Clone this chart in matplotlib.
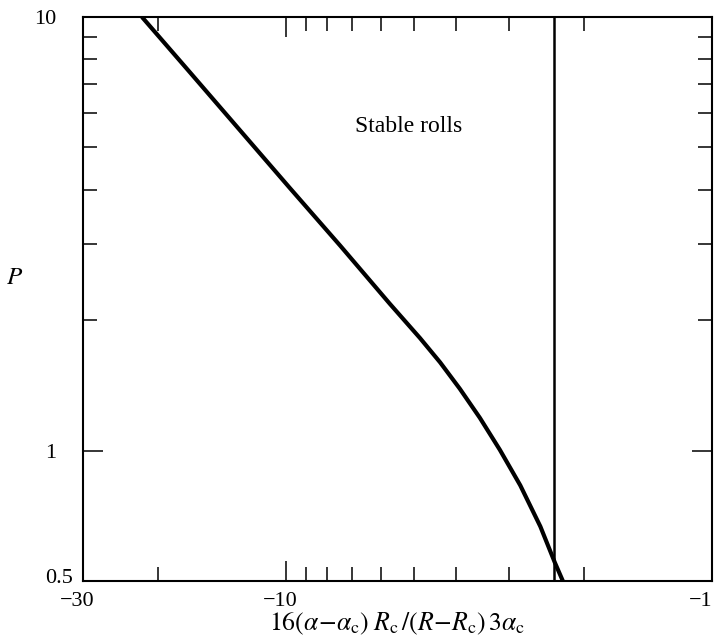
import numpy as np
import matplotlib
matplotlib.use("Agg")
import matplotlib.pyplot as plt
from matplotlib.transforms import ScaledTranslation

# ---- data ----
curve_x = [-21.81, -16.82, -12.84, -9.80, -7.47, -5.71, -4.85, -4.35, -3.91,
           -3.51, -3.15, -2.82, -2.53, -2.34, -2.24]
curve_P = [10.0, 7.45, 5.48, 4.03, 2.97, 2.18, 1.817, 1.597, 1.388,
           1.190, 1.004, 0.831, 0.668, 0.552, 0.5]
vline_x = -2.35

x_major = [-30, -10, -1]
x_major_labels = ["\u221230", "\u221210", "\u22121"]
x_minor = [-20, -9, -8, -7, -6, -5, -4, -3, -2]
y_major = [0.5, 1, 10]
y_major_labels = ["0.5", "1", "10"]
y_minor = [2, 3, 4, 5, 6, 7, 8, 9]

plt.rcParams["font.family"] = ["Liberation Serif", "DejaVu Serif"]
plt.rcParams["mathtext.fontset"] = "stix"

W, H = 715, 643
fig = plt.figure(figsize=(W / 100, H / 100), dpi=100)
ax = fig.add_axes([83 / W, 1 - 581 / H, (712 - 83) / W, (581 - 17) / H])

fwd = lambda x: -np.log10(np.abs(x))
inv = lambda y: -10.0 ** (-y)
ax.set_xscale("function", functions=(fwd, inv))
ax.set_yscale("log")
ax.set_xlim(-30, -1)
ax.set_ylim(0.5, 10)

ax.plot(curve_x, curve_P, color="black", lw=3.0, solid_capstyle="butt",
        solid_joinstyle="round")
ax.axvline(vline_x, color="black", lw=1.8)

ax.set_xticks(x_major)
ax.set_xticklabels(x_major_labels)
ax.set_xticks(x_minor, minor=True)
ax.set_xticklabels([], minor=True)
ax.set_yticks(y_major)
ax.set_yticklabels(y_major_labels)
ax.set_yticks(y_minor, minor=True)
ax.set_yticklabels([], minor=True)

for s in ax.spines.values():
    s.set_linewidth(1.5)

ax.tick_params(which="both", direction="in", top=True, right=True, width=1.1,
               labelsize=16, color="black")
ax.tick_params(which="major", length=14.5)
ax.tick_params(which="minor", length=10)
ax.tick_params(axis="y", which="major", pad=19)
ax.tick_params(axis="x", which="major", pad=8)

for lbl in ax.get_xticklabels():
    dx = -6 if lbl.get_text() != "\u22121" else -11
    lbl.set_transform(lbl.get_transform() + ScaledTranslation(dx / 100, 0, fig.dpi_scale_trans))
for lbl in ax.get_yticklabels():
    if lbl.get_text() == "0.5":
        lbl.set_transform(lbl.get_transform() + ScaledTranslation(16 / 100, 5 / 100, fig.dpi_scale_trans))

ax.set_xlabel(r"$16(\alpha\!-\!\alpha_{\rm c})\;R_{\rm c}\,/(R\!-\!R_{\rm c})\,3\alpha_{\rm c}$",
              fontsize=18.5, labelpad=0)
fig.text(15 / W, 1 - 278 / H, r"$P$", fontsize=18, ha="center", va="center")
ax.text(409 / W, 1 - 127 / H, "Stable rolls", transform=fig.transFigure,
        fontsize=17, ha="center", va="center")

fig.savefig("out.png", dpi=100)
